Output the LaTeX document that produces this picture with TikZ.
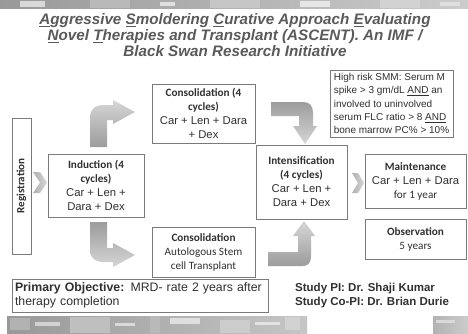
\documentclass[tikz,border=0pt]{standalone}
\usepackage{fontspec}
\setmainfont{Liberation Sans}
\newfontfamily\calfont{Carlito}
\definecolor{boxgray}{HTML}{7A7A7A}
\definecolor{txtdark}{HTML}{303030}
\definecolor{titlegray}{HTML}{5A5A5A}
\definecolor{arrdark}{HTML}{9C9C9C}
\definecolor{arrlight}{HTML}{D6D6D6}
\newcommand\hdtext{\calfont\bfseries\fontsize{11.2}{14}\selectfont}
\newcommand\cltext{\calfont\mdseries\fontsize{11.2}{14}\selectfont}
\newcommand\drtext{\rmfamily\mdseries\fontsize{11.3}{14}\selectfont}
\begin{document}
\begin{tikzpicture}[x=1pt,y=-1pt,
  box/.style={draw=boxgray, line width=0.8pt, fill=white, inner sep=1pt, align=center, text=txtdark,
    font=\fontsize{11.2}{14}\selectfont},
  bentarrow/.style={draw=none, top color=arrdark, bottom color=arrlight},
  bentarrowup/.style={draw=none, top color=arrlight, bottom color=arrdark},
  chev/.style={draw=none, left color=arrdark!80, right color=arrlight}
]
\useasboundingbox (0,0) rectangle (468,333);
\fill[white] (0,0) rectangle (468,333);

% decorative strips
\shade[left color=gray!80, right color=gray!40] (0,0) rectangle (468,8);
\fill[gray!30] (20,1) rectangle (45,7);
\fill[gray!55] (90,0) rectangle (130,8);
\fill[gray!25] (160,2) rectangle (175,6);
\fill[gray!45] (210,0) rectangle (260,8);
\fill[gray!20] (300,1) rectangle (330,7);
\fill[gray!35] (380,0) rectangle (420,8);
\fill[gray!25] (440,2) rectangle (460,6);

\shade[left color=gray!80, right color=gray!45] (7,316) rectangle (307,333);
\fill[gray!60] (10,318) rectangle (30,330);
\fill[gray!35] (35,322) rectangle (60,326);
\fill[gray!50] (70,317) rectangle (110,333);
\fill[gray!30] (115,323) rectangle (135,326);
\fill[gray!55] (150,316) rectangle (160,333);
\fill[gray!25] (170,318) rectangle (200,324);
\fill[gray!40] (220,320) rectangle (250,333);
\fill[gray!22] (255,322) rectangle (280,325);
\fill[gray!35] (285,317) rectangle (300,330);
\shade[left color=gray!60, right color=gray!40] (433,316) rectangle (468,333);
\fill[gray!30] (436,320) rectangle (455,323);

% title
\node[text=titlegray, font=\fontsize{15.2}{16}\selectfont\bfseries\itshape, align=center] (title) at (235,35)
  {\underline{A}ggressive \underline{S}moldering \underline{C}urative Approach \underline{E}valuating\\
   \underline{N}ovel \underline{T}herapies and Transplant (ASCENT). An IMF /\\
   Black Swan Research Initiative};

% boxes
\node[box, minimum width=19pt, minimum height=136pt] (reg) at (21.5,186) {};
\node[rotate=90, text=txtdark, font=\calfont\bfseries\fontsize{11}{13}\selectfont] (regtxt) at (reg.center) {Registration};

\node[box, minimum width=96pt, minimum height=63pt] (ind) at (96,185.5)
  {\hdtext Induction (4\\\hdtext cycles)\\\drtext Car + Len +\\\drtext Dara + Dex};

\node[box, minimum width=103pt, minimum height=59pt] (cons1) at (203.5,113.5)
  {\hdtext Consolidation (4\\\hdtext cycles)\\\drtext Car + Len + Dara\\\drtext + Dex};

\node[box, minimum width=103pt, minimum height=50pt] (cons2) at (203.5,252)
  {\hdtext Consolidation\\\cltext Autologous Stem\\\cltext cell Transplant};

\node[box, minimum width=91pt, minimum height=74pt] (intens) at (301.5,182)
  {\hdtext Intensification\\\hdtext (4 cycles)\\\drtext Car + Len +\\\drtext Dara + Dex};

\node[box, minimum width=123pt, minimum height=67pt, align=left, inner sep=3pt,
  font=\fontsize{10}{13.3}\selectfont] (hr) at (391.5,103.5)
  {High risk SMM: Serum M\\spike > 3 gm/dL \underline{AND} an\\involved to uninvolved\\serum FLC ratio > 8 \underline{AND}\\bone marrow PC\% > 10\%};

\node[box, minimum width=101pt, minimum height=54pt] (maint) at (415.5,181)
  {\hdtext Maintenance\\\drtext Car + Len + Dara\\\cltext for 1 year};

\node[box, minimum width=101pt, minimum height=40pt] (obs) at (415.5,239)
  {\hdtext Observation\\\cltext 5 years};

\node[box, minimum width=256pt, minimum height=33pt, align=left, text width=250pt, inner sep=3pt,
  font=\fontsize{12.3}{14}\selectfont] (prim) at (140,295.5)
  {\textbf{Primary Objective:} MRD- rate 2 years after\\therapy completion};

\node[anchor=west, align=left, text=txtdark, inner sep=0pt, font=\bfseries\fontsize{11.5}{14}\selectfont] (pi) at (295,296)
  {Study PI: Dr. Shaji Kumar\\Study Co-PI: Dr. Brian Durie};

% chevrons
\path[chev] (33,172) -- (40,172) -- (47,182.5) -- (40,193) -- (33,193) -- (40,182.5) -- cycle;
\path[chev] (352,173) -- (358,173) -- (364,183) -- (358,193) -- (352,193) -- (358,183) -- cycle;

% bent arrows
\path[bentarrowup] (90,147) -- (90,118) .. controls (90,109) and (95,105) .. (104,105) -- (113,105)
  -- (113,100) -- (135,112) -- (113,124) -- (113,120) -- (107,120) -- (107,147) -- cycle;
\path[bentarrow] (90,222) -- (90,250) .. controls (90,258) and (95,262) .. (104,262) -- (113,262)
  -- (113,267) -- (135,255) -- (113,243) -- (113,248) -- (107,248) -- (107,222) -- cycle;
\path[bentarrow] (271,102) -- (303,102) .. controls (310,102) and (313,106) .. (313,113) -- (313,126)
  -- (317,126) -- (305,144) -- (293,126) -- (299,126) -- (299,116) -- (271,116) -- cycle;
\path[bentarrowup] (268,266) -- (302,266) .. controls (309,266) and (311,262) .. (311,256) -- (311,236)
  -- (315,236) -- (304,221) -- (293,236) -- (298,236) -- (298,252) -- (268,252) -- cycle;
\end{tikzpicture}
\end{document}
